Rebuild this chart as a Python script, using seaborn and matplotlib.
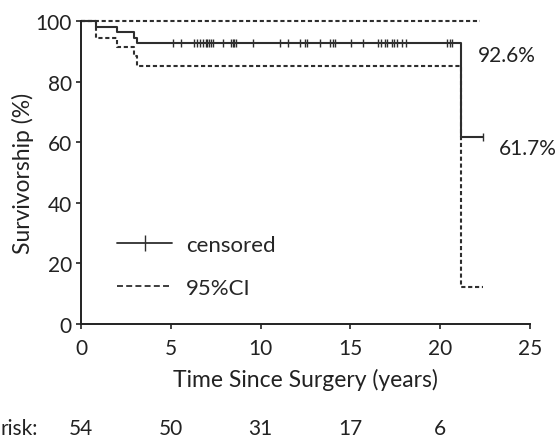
import numpy as np
import pandas as pd
import matplotlib
matplotlib.use("Agg")
import matplotlib.pyplot as plt
import matplotlib.transforms as mtransforms
from matplotlib.lines import Line2D
import seaborn as sns

# Kaplan-Meier estimate (step values, %)
km_time = [0, 0.83, 1.99, 2.95, 3.1, 21.18, 22.37]
km_surv = [100, 98.1, 96.3, 94.4, 92.6, 61.7, 61.7]

# 95% confidence band
ci_low_time = [0, 0.83, 1.99, 2.95, 3.1, 21.15, 22.37]
ci_low = [100, 94.3, 91.3, 88.3, 85.2, 12.2, 12.2]
ci_up_time = [0, 22.2]
ci_up = [100, 100]

# censored observations (years)
censor_times = [5.10, 5.55, 6.29, 6.44, 6.62, 6.77, 6.94, 7.01, 7.12, 7.22, 7.33,
                7.92, 8.33, 8.44, 8.53, 8.63, 9.59, 11.07, 11.52, 12.19, 12.47, 12.58,
                13.30, 13.86, 14.01, 14.13, 15.06, 15.71, 16.51, 16.73, 16.92, 17.04,
                17.29, 17.42, 17.57, 17.90, 18.09, 20.38, 20.53, 20.68, 22.37]

risk_years = [0, 5, 10, 15, 20]
risk_counts = ["54", "50", "31", "17", "6"]
end_labels = ["92.6%", "61.7%"]

sns.set_style("white")
plt.rcParams["font.family"] = ["Lato", "DejaVu Sans"]

line_col = "#2e2e2e"
txt_col = "#222222"
fs = 15

fig = plt.figure(figsize=(5.59, 4.39), dpi=100)
ax = fig.add_axes([81 / 559, 1 - 325 / 439, 449 / 559, 303 / 439])

km = pd.DataFrame({"time": km_time, "surv": km_surv})
lo = pd.DataFrame({"time": ci_low_time, "surv": ci_low})
up = pd.DataFrame({"time": ci_up_time, "surv": ci_up})

dash = (0, (2.0, 1.3))
sns.lineplot(data=up, x="time", y="surv", ax=ax, color=line_col, lw=1.5, clip_on=False,
             linestyle=dash, drawstyle="steps-post", estimator=None, sort=False)
sns.lineplot(data=lo, x="time", y="surv", ax=ax, color=line_col, lw=1.5, clip_on=False,
             linestyle=dash, drawstyle="steps-post", estimator=None, sort=False)
sns.lineplot(data=km, x="time", y="surv", ax=ax, color=line_col, lw=1.5, clip_on=False,
             drawstyle="steps-post", estimator=None, sort=False)

# censor marks sit on the KM curve
idx = np.searchsorted(km_time, censor_times, side="right") - 1
cens = pd.DataFrame({"time": censor_times, "surv": np.array(km_surv)[idx]})
sns.scatterplot(data=cens, x="time", y="surv", ax=ax, marker="|", s=36,
                color=line_col, linewidth=1.0)

ax.set_xlim(0, 25)
ax.set_ylim(0, 100)
ax.set_xticks([0, 5, 10, 15, 20, 25])
ax.set_yticks([0, 20, 40, 60, 80, 100])
ax.tick_params(direction="out", length=3.5, width=1.2, colors=txt_col,
               labelsize=fs, bottom=True, left=True)
ax.tick_params(axis="x", pad=6.5)
ax.tick_params(axis="y", pad=3)
for s in ["top", "right"]:
    ax.spines[s].set_visible(False)
for s in ["left", "bottom"]:
    ax.spines[s].set_color(txt_col)
    ax.spines[s].set_linewidth(1.4)

ax.set_xlabel("Time Since Surgery (years)", fontsize=16.5, labelpad=7, color=txt_col)
ax.set_ylabel("Survivorship (%)", fontsize=16.5, labelpad=1, color=txt_col)

ax.annotate(end_labels[0], (22.1, km_surv[4]), xytext=(0, -8), textcoords="offset points",
            fontsize=fs, va="center", ha="left", color=txt_col)
ax.annotate(end_labels[1], (23.26, km_surv[5]), xytext=(0, -8), textcoords="offset points",
            fontsize=fs, va="center", ha="left", color=txt_col)

handles = [Line2D([0], [0], color=line_col, lw=1.3, marker="|", markersize=11),
           Line2D([0], [0], color=line_col, lw=1.3, linestyle=(0, (3.3, 1.8)))]
ax.legend(handles, ["censored", "95%CI"], loc="center left",
          bbox_to_anchor=(0.08, 0.19), frameon=False, fontsize=16,
          handlelength=2.5, handletextpad=0.6, labelspacing=1.05,
          borderaxespad=0, borderpad=0)

# numbers at risk row, under the x ticks
risk_y = 1 - 429 / 439
fig.text(0.5 / 559, risk_y, "risk:", fontsize=fs, va="center", ha="left", color=txt_col)
row = mtransforms.blended_transform_factory(ax.transData, fig.transFigure)
for yr, n in zip(risk_years, risk_counts):
    ax.text(yr, risk_y, n, fontsize=fs, va="center", ha="center", color=txt_col,
            transform=row)

fig.savefig("out.png", dpi=100)
